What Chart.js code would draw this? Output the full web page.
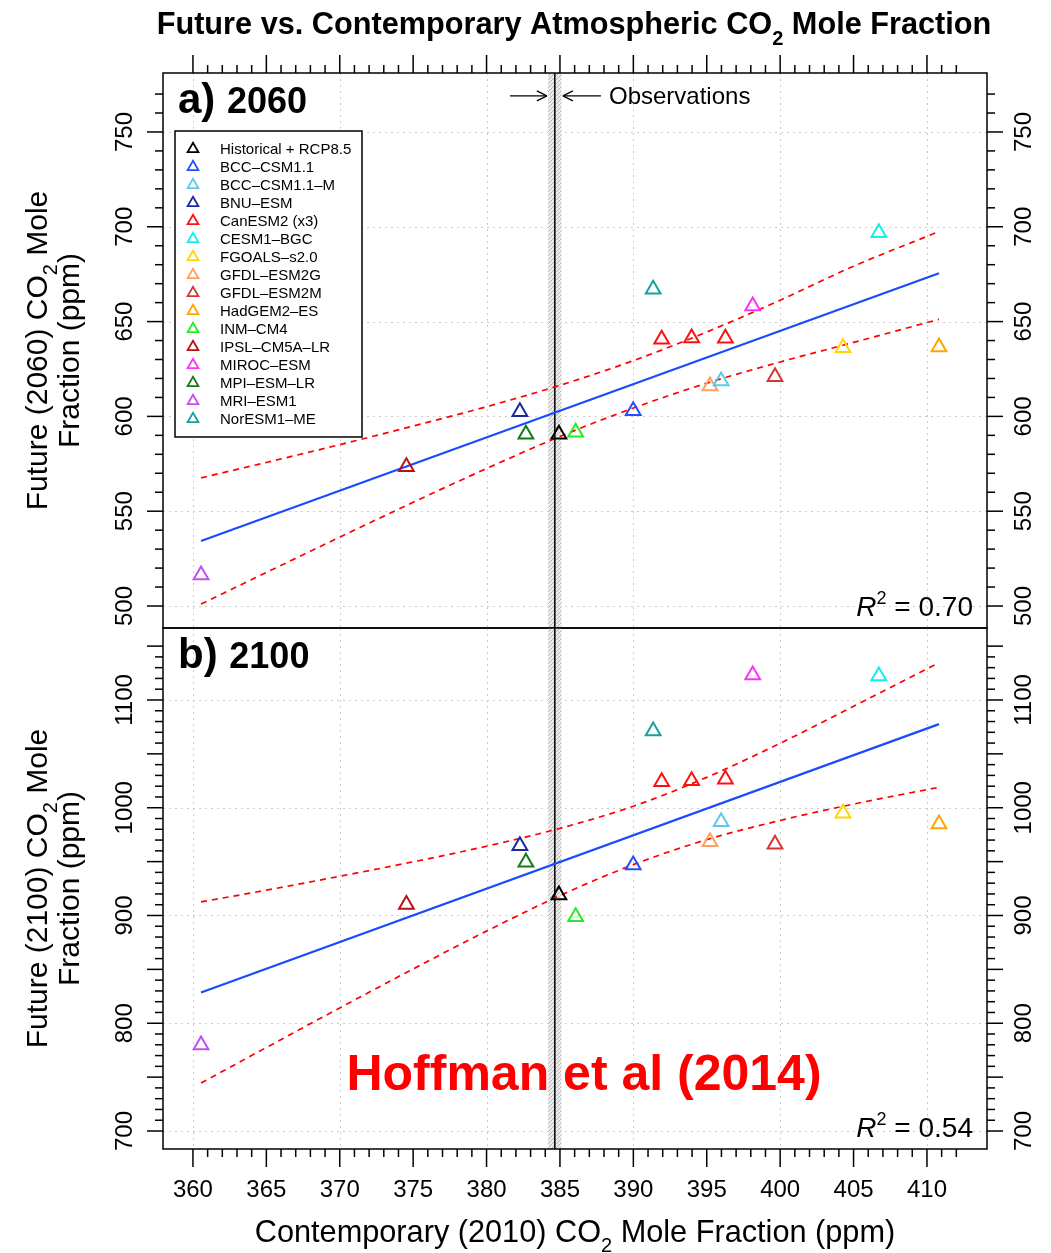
<!DOCTYPE html>
<html lang="en">
<head>
<meta charset="UTF-8" />
<title>Future vs. Contemporary Atmospheric CO2 Mole Fraction</title>
<script src="https://cdn.jsdelivr.net/npm/chart.js"></script>
<style>
  body { margin: 0; background: #fff; }
  #wrap { position: relative; width: 1051px; height: 1253px; }
  canvas { position: absolute; left: 0; top: 0; }
</style>
</head>
<body>
<div id="wrap">
  <canvas id="panelA" width="1051" height="1253"></canvas>
  <canvas id="panelB" width="1051" height="1253"></canvas>
</div>
<script>
  // models shown in the legend (first entry = multi-model Historical + RCP8.5)
  const modelNames = [
    "Historical + RCP8.5", "BCC–CSM1.1", "BCC–CSM1.1–M", "BNU–ESM", "CanESM2 (x3)",
    "CESM1–BGC", "FGOALS–s2.0", "GFDL–ESM2G", "GFDL–ESM2M", "HadGEM2–ES",
    "INM–CM4", "IPSL–CM5A–LR", "MIROC–ESM", "MPI–ESM–LR", "MRI–ESM1", "NorESM1–ME"
  ];
  const modelColors = [
    "#000000", "#2050ff", "#5ccbeb", "#1a2a9a", "#ff1010",
    "#10eeee", "#ffd500", "#ffa060", "#d03838", "#ffa500",
    "#22ee22", "#bb1111", "#ff30ff", "#147a14", "#c050f0", "#17a0a0"
  ];

  // contemporary (2010) CO2, ppm (CanESM2 has three members)
  const co2Contemporary = [
    [384.93], [389.99], [395.98], [382.27], [391.93, 393.97, 396.27],
    [406.72], [404.28], [395.22], [399.65], [410.82],
    [386.07], [374.54], [398.13], [382.68], [360.55], [391.35]
  ];
  // future CO2, ppm
  const co2Future2060 = [
    [590.6], [603.0], [618.7], [602.5], [640.7, 641.4, 641.2],
    [696.9], [636.2], [616.0], [620.9], [636.6],
    [591.6], [573.5], [658.2], [590.6], [516.4], [667.0]
  ];
  const co2Future2100 = [
    [919.0], [946.8], [987.0], [964.7], [1024.1, 1025.1, 1026.4],
    [1122.2], [994.8], [968.4], [966.0], [984.9],
    [898.8], [910.3], [1123.2], [949.3], [779.8], [1071.2]
  ];

  // regression line and prediction band
  const fitX = [360.55, 410.82];
  const fit2060 = [534.3, 675.5];
  const fit2100 = [828.5, 1077.6];
  const bandX = [360.55, 365, 370, 375, 380, 385, 390, 395, 400, 405, 410.82];
  const upper2060 = [567.6, 575.7, 585.1, 594.9, 605.1, 616.4, 629.4, 644.5, 661.3, 679.2, 697.5];
  const lower2060 = [501.0, 517.7, 536.3, 554.7, 572.5, 589.4, 604.4, 617.5, 628.7, 639.0, 651.2];
  const upper2100 = [912.6, 923.5, 936.4, 949.8, 964.3, 980.9, 1001.4, 1028.2, 1059.8, 1094.2, 1134.5];
  const lower2100 = [744.5, 777.5, 814.2, 850.4, 885.5, 918.5, 947.2, 970.4, 988.2, 1003.4, 1019.0];

  // observations
  const obsCO2 = 384.65;
  const obsRange = [384.2, 385.1];

  // axes
  const xRange = [357.96, 414.09];
  const yRange2060 = [488.4, 781.1];
  const yRange2100 = [683.3, 1166.8];
  const xTickLabels = [360, 365, 370, 375, 380, 385, 390, 395, 400, 405, 410];
  const xGridLines = [360, 370, 380, 390, 400, 410];
  const yTickLabels2060 = [500, 550, 600, 650, 700, 750];
  const yTickLabels2100 = [700, 800, 900, 1000, 1100];

  const FONT = "'Liberation Sans', Arial, Helvetica, sans-serif";
  const f = (size, style) => (style ? style + " " : "") + size + "px " + FONT;

  function drawRich(ctx, parts, x, y, align) {
    let w = 0;
    parts.forEach(p => { ctx.font = p.font; w += ctx.measureText(p.t).width; });
    let cx = align === "center" ? x - w / 2 : align === "right" ? x - w : x;
    ctx.textAlign = "left";
    ctx.textBaseline = "alphabetic";
    parts.forEach(p => {
      ctx.font = p.font;
      ctx.fillText(p.t, cx, y + (p.dy || 0));
      cx += ctx.measureText(p.t).width;
    });
  }

  function vText(ctx, parts, x, y) {
    ctx.save();
    ctx.translate(x, y);
    ctx.rotate(-Math.PI / 2);
    drawRich(ctx, parts, 0, 0, "center");
    ctx.restore();
  }

  function seg(ctx, x1, y1, x2, y2) {
    ctx.beginPath();
    ctx.moveTo(x1, y1);
    ctx.lineTo(x2, y2);
    ctx.stroke();
  }

  function tri(ctx, x, y, r, color, lw) {
    ctx.beginPath();
    ctx.moveTo(x, y - r);
    ctx.lineTo(x + r * 0.866, y + r / 2);
    ctx.lineTo(x - r * 0.866, y + r / 2);
    ctx.closePath();
    ctx.strokeStyle = color;
    ctx.lineWidth = lw;
    ctx.stroke();
  }

  function hatch(ctx) {
    const c = document.createElement("canvas");
    c.width = 4; c.height = 4;
    const g = c.getContext("2d");
    g.fillStyle = "#ebebeb";
    g.fillRect(0, 0, 4, 4);
    g.strokeStyle = "#b4b4b4";
    g.lineWidth = 1;
    g.beginPath(); g.moveTo(0, 4); g.lineTo(4, 0); g.stroke();
    return ctx.createPattern(c, "repeat");
  }

  function arrow(ctx, x1, x2, y) {
    seg(ctx, x1, y, x2, y);
    const d = x2 > x1 ? -1 : 1;
    seg(ctx, x2, y, x2 + d * 10, y - 5);
    seg(ctx, x2, y, x2 + d * 10, y + 5);
  }

  function panelPlugin(p) {
    return {
      id: "panel_" + p.key,
      beforeDatasetsDraw(chart) {
        const { ctx, chartArea: a, scales: { x, y } } = chart;
        ctx.save();
        // dotted grid
        ctx.strokeStyle = "#cccccc";
        ctx.lineWidth = 1;
        ctx.setLineDash([2, 4]);
        xGridLines.forEach(v => {
          const px = Math.round(x.getPixelForValue(v)) + 0.5;
          seg(ctx, px, a.top, px, a.bottom);
        });
        p.yLabels.forEach(v => {
          const py = Math.round(y.getPixelForValue(v)) + 0.5;
          seg(ctx, a.left, py, a.right, py);
        });
        ctx.setLineDash([]);
        // observation band
        const b0 = x.getPixelForValue(obsRange[0]);
        const b1 = x.getPixelForValue(obsRange[1]);
        ctx.fillStyle = hatch(ctx);
        ctx.fillRect(b0, a.top, b1 - b0, a.bottom - a.top);
        ctx.strokeStyle = "#000";
        ctx.lineWidth = 1.5;
        const ox = x.getPixelForValue(obsCO2);
        seg(ctx, ox, a.top, ox, a.bottom);
        ctx.restore();
      },
      afterDraw(chart) {
        const { ctx, chartArea: a, scales: { x, y } } = chart;
        ctx.save();
        ctx.strokeStyle = "#000";
        ctx.fillStyle = "#000";
        ctx.lineWidth = 1.5;
        ctx.strokeRect(a.left, a.top, a.right - a.left, a.bottom - a.top);

        // y ticks both sides
        for (let v = p.yMinor[0]; v <= p.yMinor[1]; v += 10) {
          const py = y.getPixelForValue(v);
          const len = v % 50 === 0 ? 16 : 8;
          seg(ctx, a.left - len, py, a.left, py);
          seg(ctx, a.right, py, a.right + len, py);
        }
        // x ticks (top for a, bottom for b)
        for (let v = 360; v <= 412; v += 1) {
          const px = x.getPixelForValue(v);
          const len = v % 5 === 0 ? 18 : 8;
          if (p.key === "a") seg(ctx, px, a.top - len, px, a.top);
          else seg(ctx, px, a.bottom, px, a.bottom + len);
        }
        // y tick labels (rotated)
        p.yLabels.forEach(v => {
          const py = y.getPixelForValue(v);
          vText(ctx, [{ t: String(v), font: f(24) }], a.left - 31, py);
          vText(ctx, [{ t: String(v), font: f(24) }], a.right + 44, py);
        });
        // y axis title
        const cy = (a.top + a.bottom) / 2;
        vText(ctx, [
          { t: "Future (" + p.year + ") CO", font: f(30) },
          { t: "2", font: f(20), dy: 10 },
          { t: " Mole", font: f(30) }
        ], a.left - 116, cy);
        vText(ctx, [{ t: "Fraction (ppm)", font: f(30) }], a.left - 84, cy);

        // panel tag
        drawRich(ctx, [
          { t: p.tag + " ", font: f(42, "bold") },
          { t: p.year, font: f(36, "bold") }
        ], a.left + 15, a.top + 40, "left");

        // R^2
        drawRich(ctx, [
          { t: "R", font: f(28, "italic") },
          { t: "2", font: f(18), dy: -12 },
          { t: " = " + p.r2, font: f(28) }
        ], a.right - 14, a.bottom - 12, "right");

        if (p.key === "a") {
          // title
          drawRich(ctx, [
            { t: "Future vs. Contemporary Atmospheric CO", font: f(30.7, "bold") },
            { t: "2", font: f(20, "bold"), dy: 11 },
            { t: " Mole Fraction", font: f(30.7, "bold") }
          ], 574, 34, "center");

          // observations annotation
          const ay = y.getPixelForValue(769);
          ctx.lineWidth = 1.3;
          arrow(ctx, x.getPixelForValue(381.6), x.getPixelForValue(384.11), ay);
          arrow(ctx, x.getPixelForValue(387.79), x.getPixelForValue(385.2), ay);
          ctx.font = f(24);
          ctx.textAlign = "left";
          ctx.textBaseline = "middle";
          ctx.fillText("Observations", x.getPixelForValue(388.34), ay + 1);

          // legend
          const lx = a.left + 12, ly = a.top + 58, lw = 187, lh = 306;
          ctx.fillStyle = "#fff";
          ctx.fillRect(lx, ly, lw, lh);
          ctx.strokeStyle = "#000";
          ctx.lineWidth = 1.5;
          ctx.strokeRect(lx, ly, lw, lh);
          modelNames.forEach((name, i) => {
            const ey = ly + 18 + i * 18;
            tri(ctx, lx + 18, ey, 6.2, modelColors[i], 1.8);
            ctx.fillStyle = "#000";
            ctx.font = f(15);
            ctx.textAlign = "left";
            ctx.textBaseline = "middle";
            ctx.fillText(name, lx + 45, ey + 1);
          });
        } else {
          // x tick labels
          ctx.font = f(24);
          ctx.textAlign = "center";
          ctx.textBaseline = "alphabetic";
          xTickLabels.forEach(v => {
            ctx.fillText(String(v), x.getPixelForValue(v), a.bottom + 48);
          });
          // x axis title
          drawRich(ctx, [
            { t: "Contemporary (2010) CO", font: f(30.7) },
            { t: "2", font: f(20), dy: 10 },
            { t: " Mole Fraction (ppm)", font: f(30.7) }
          ], (a.left + a.right) / 2, a.bottom + 93, "center");
          // citation stamp
          ctx.fillStyle = "#ff0000";
          ctx.font = f(50, "bold");
          ctx.textAlign = "center";
          ctx.fillText("Hoffman et al (2014)", (a.left + a.right) / 2 + 9, a.bottom - 59);
        }
        ctx.restore();
      }
    };
  }

  function makePanel(p) {
    const datasets = [];
    datasets.push({
      label: "fit", data: fitX.map((v, k) => ({ x: v, y: p.fit[k] })),
      showLine: true, pointRadius: 0, borderColor: "#1a4cff", borderWidth: 2.2, order: 2
    });
    [p.upper, p.lower].forEach((band, j) => {
      datasets.push({
        label: j ? "lower" : "upper", data: bandX.map((v, k) => ({ x: v, y: band[k] })),
        showLine: true, pointRadius: 0, borderColor: "#ff0000", borderWidth: 1.7,
        borderDash: [6, 5], cubicInterpolationMode: "monotone", order: 2
      });
    });
    modelNames.forEach((name, i) => {
      datasets.push({
        label: name,
        data: co2Contemporary[i].map((v, k) => ({ x: v, y: p.future[i][k] })),
        pointStyle: "triangle", pointRadius: 8.5, pointBorderWidth: 2,
        borderColor: modelColors[i], backgroundColor: "rgba(0,0,0,0)", order: 1
      });
    });
    return new Chart(document.getElementById(p.canvas), {
      type: "scatter",
      data: { datasets },
      options: {
        responsive: false,
        animation: false,
        devicePixelRatio: 1,
        events: [],
        layout: { padding: { left: 163, right: 64, top: p.padTop, bottom: p.padBottom } },
        scales: {
          x: { type: "linear", min: xRange[0], max: xRange[1], display: false },
          y: { type: "linear", min: p.yRange[0], max: p.yRange[1], display: false }
        },
        plugins: { legend: { display: false }, tooltip: { enabled: false } }
      },
      plugins: [panelPlugin(p)]
    });
  }

  makePanel({
    key: "a", canvas: "panelA", tag: "a)", year: "2060", r2: "0.70",
    future: co2Future2060, fit: fit2060, upper: upper2060, lower: lower2060,
    yRange: yRange2060, yLabels: yTickLabels2060, yMinor: [500, 770],
    padTop: 73, padBottom: 625
  });
  makePanel({
    key: "b", canvas: "panelB", tag: "b)", year: "2100", r2: "0.54",
    future: co2Future2100, fit: fit2100, upper: upper2100, lower: lower2100,
    yRange: yRange2100, yLabels: yTickLabels2100, yMinor: [700, 1150],
    padTop: 628, padBottom: 104
  });
</script>
</body>
</html>
